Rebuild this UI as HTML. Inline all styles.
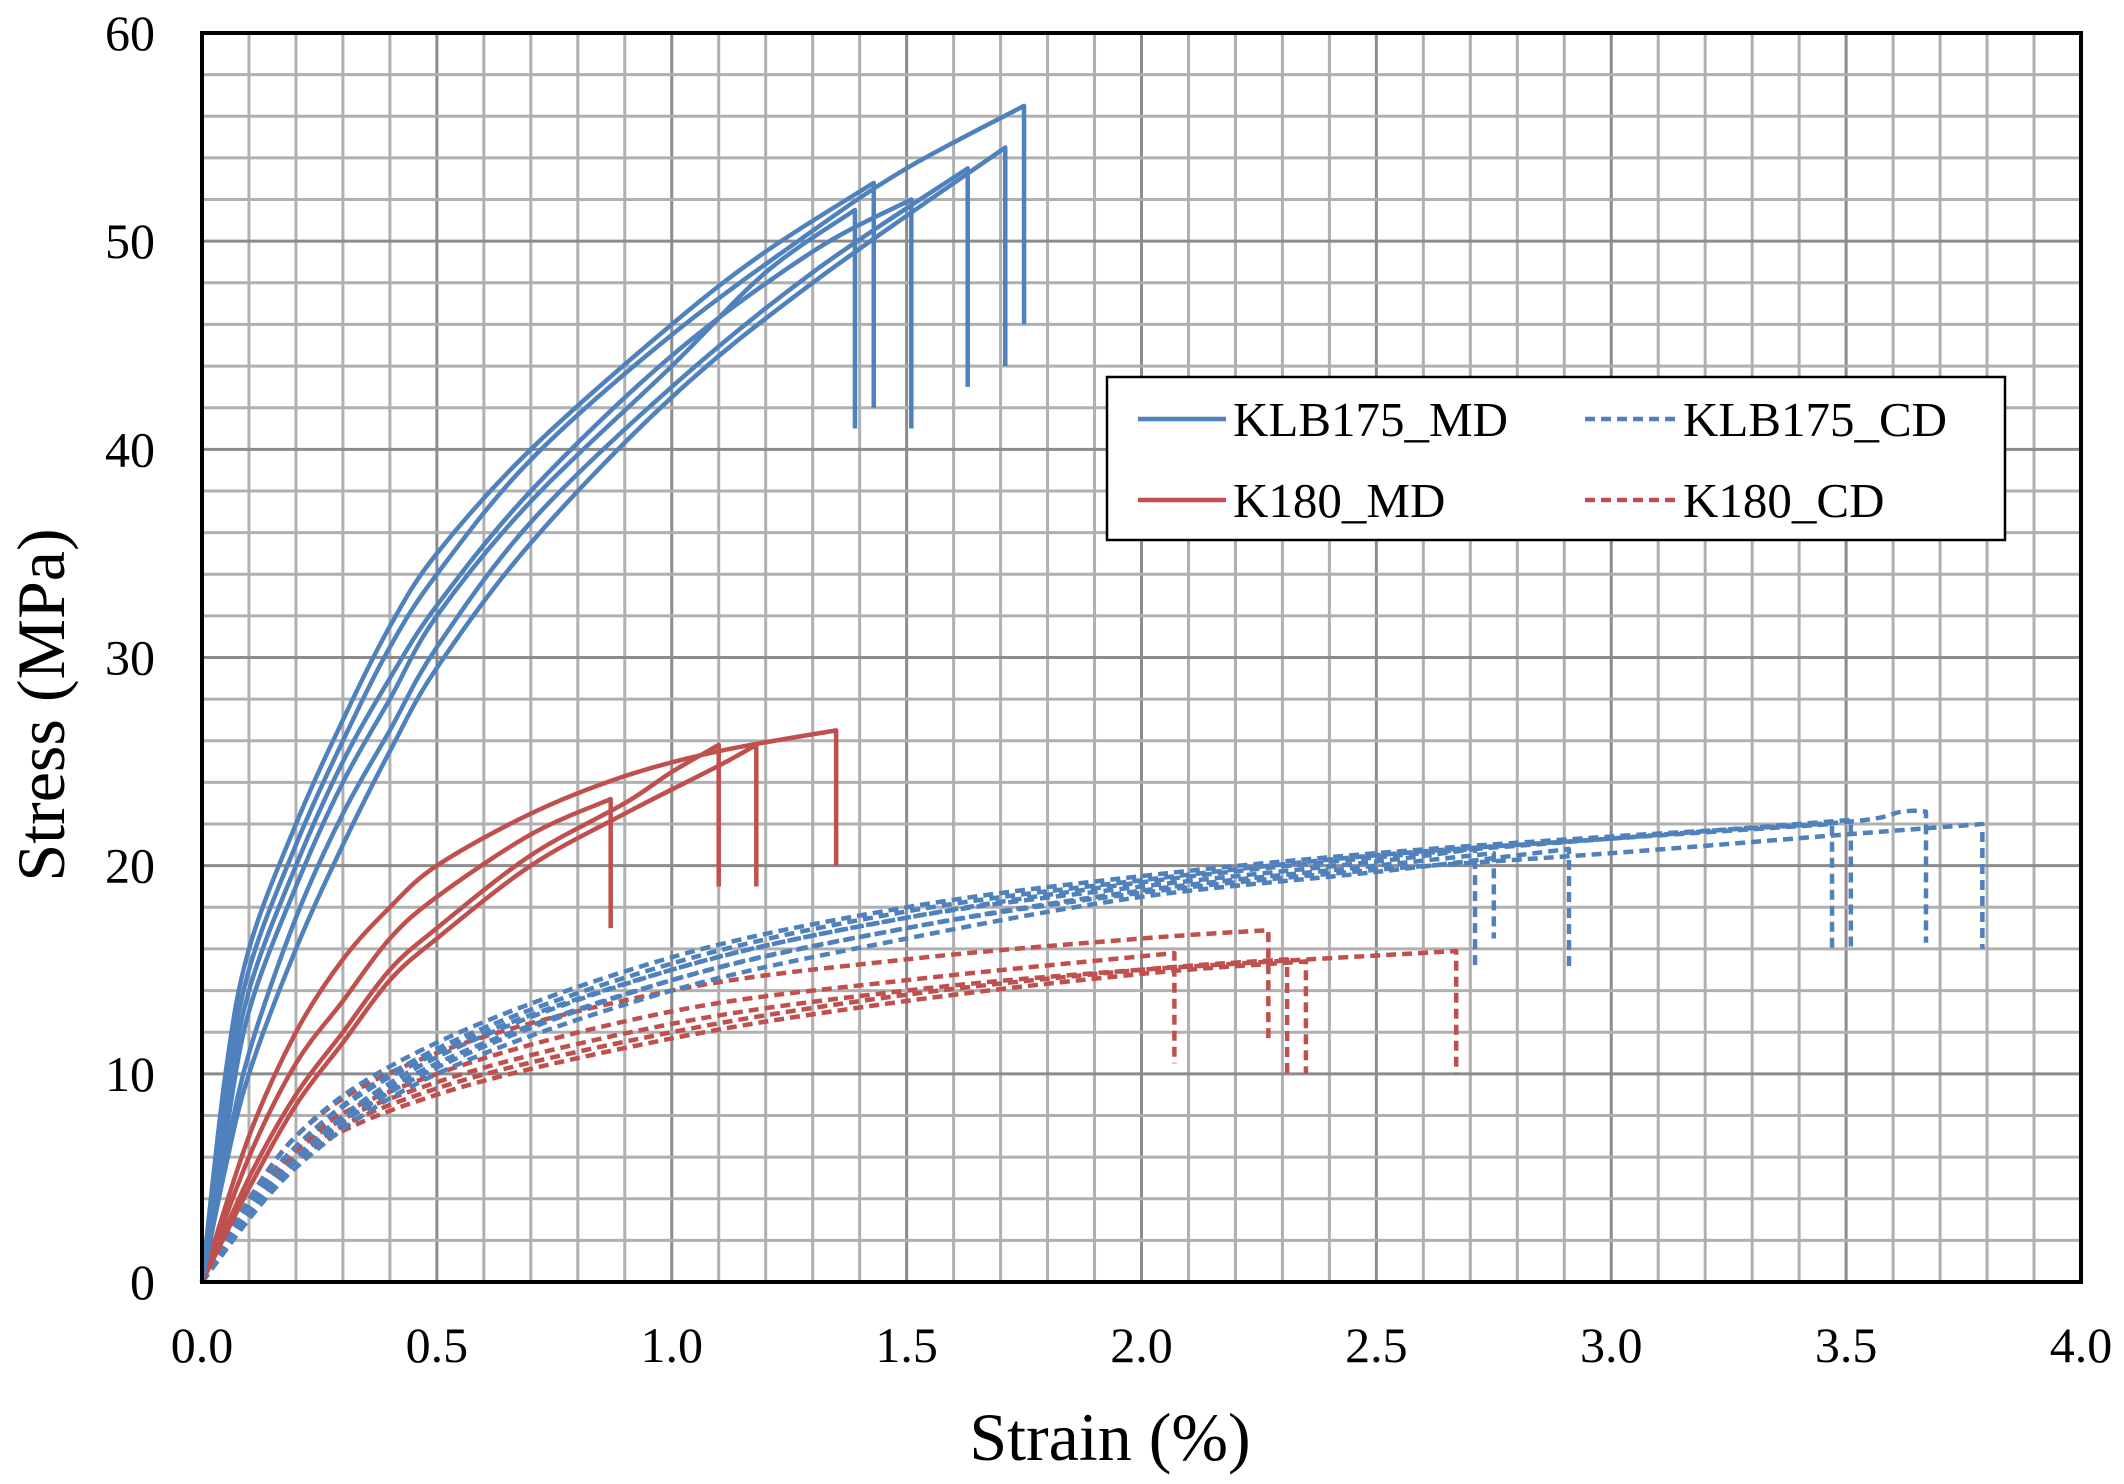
<!DOCTYPE html>
<html><head><meta charset="utf-8"><style>
html,body{margin:0;padding:0;background:#fff;}
svg{display:block;font-family:"Liberation Serif",serif;}
</style></head><body>
<svg id="chart" width="2124" height="1484" viewBox="0 0 2124 1484" xmlns="http://www.w3.org/2000/svg">
<g id="grid"></g>
<g id="series"></g>
<rect x="202" y="33" width="1879" height="1249" fill="none" stroke="#000" stroke-width="4"/>
<g id="ticks" font-size="50" fill="#000"></g>
<text x="1110" y="1460" font-size="68" text-anchor="middle">Strain (%)</text>
<text transform="translate(64,705) rotate(-90)" font-size="68" text-anchor="middle">Stress (MPa)</text>
<g>
<rect x="1107" y="377" width="898" height="163" fill="#fff" stroke="#000" stroke-width="2.5"/>
<g><line x1="1138" y1="419" x2="1226" y2="419" stroke="#4F81BD" stroke-width="4.5"/><text x="1233" y="436" font-size="49">KLB175_MD</text></g>
<g><line x1="1585" y1="419" x2="1677" y2="419" stroke="#4F81BD" stroke-width="4.5" stroke-dasharray="10 6"/><text x="1683" y="436" font-size="49">KLB175_CD</text></g>
<g><line x1="1138" y1="500" x2="1226" y2="500" stroke="#C0504D" stroke-width="4.5"/><text x="1233" y="517" font-size="49">K180_MD</text></g>
<g><line x1="1585" y1="500" x2="1677" y2="500" stroke="#C0504D" stroke-width="4.5" stroke-dasharray="10 6"/><text x="1683" y="517" font-size="49">K180_CD</text></g>
</g>
</svg>
<script>
const xTicks=["0.0","0.5","1.0","1.5","2.0","2.5","3.0","3.5","4.0"];
const yTicks=["0","10","20","30","40","50","60"];
const klbMD=[
 [[0,0],[0.05,10],[0.1,16],[0.2,22],[0.3,27],[0.4,31.5],[0.5,35],[0.7,40],[1.0,46],[1.2,49.5],[1.43,52.8],[1.43,42]],
 [[0,0],[0.05,7],[0.1,13],[0.2,19],[0.3,24],[0.4,28],[0.5,32],[0.7,37.5],[1.0,44],[1.2,48.5],[1.39,51.5],[1.39,41]],
 [[0,0],[0.05,8],[0.1,14],[0.2,20],[0.3,25],[0.4,29],[0.5,32.5],[0.7,38],[1.0,44.5],[1.3,49.5],[1.51,52],[1.51,41]],
 [[0,0],[0.05,6],[0.1,11],[0.2,17.5],[0.3,22.5],[0.4,26.5],[0.5,30.5],[0.7,36.5],[1.0,43],[1.3,48.5],[1.63,53.5],[1.63,43]],
 [[0,0],[0.05,5.5],[0.1,10],[0.2,16],[0.3,21],[0.4,25.5],[0.5,29.5],[0.7,35.5],[1.0,42.5],[1.3,48],[1.71,54.5],[1.71,44]],
 [[0,0],[0.05,9],[0.1,15],[0.2,21],[0.3,26],[0.4,30.5],[0.5,34],[0.7,39.5],[1.0,45.5],[1.3,50.5],[1.5,53.5],[1.75,56.5],[1.75,46]]
];
const k180MD=[
 [[0,0],[0.1,6],[0.2,10.5],[0.3,13.5],[0.4,16.5],[0.5,18.5],[0.7,21.5],[0.87,23.2],[0.87,17]],
 [[0,0],[0.1,5],[0.2,9],[0.3,12],[0.4,15],[0.5,17],[0.7,20.5],[0.9,23],[1.0,24.5],[1.1,25.8],[1.1,19]],
 [[0,0],[0.1,4.5],[0.2,8.5],[0.3,11.5],[0.4,14.5],[0.5,16.5],[0.7,20],[0.9,22.5],[1.1,24.8],[1.18,25.8],[1.18,19]],
 [[0,0],[0.1,7],[0.2,12],[0.3,15.5],[0.4,18],[0.5,20],[0.7,22.5],[0.9,24.3],[1.1,25.5],[1.35,26.5],[1.35,20]]
];
const klbCD=[
 [[0,0],[0.2,6.5],[0.5,11],[1.0,15],[1.5,17.5],[2.0,19],[2.5,20.2],[2.71,20.8],[2.71,15]],
 [[0,0],[0.2,6],[0.5,10.5],[1.0,14.5],[1.5,17],[2.0,18.8],[2.5,20],[2.75,20.6],[2.75,16.5]],
 [[0,0],[0.2,5.5],[0.5,10],[1.0,14],[1.5,16.5],[2.0,18.5],[2.5,19.7],[2.91,20.8],[2.91,15]],
 [[0,0],[0.2,6.5],[0.5,11.2],[1.0,15.3],[1.5,17.8],[2.0,19.3],[2.5,20.5],[3.0,21.3],[3.47,22],[3.47,16]],
 [[0,0],[0.2,6],[0.5,10.8],[1.0,15],[1.5,17.5],[2.0,19.2],[2.5,20.4],[3.0,21.3],[3.51,22.2],[3.51,16]],
 [[0,0],[0.2,7],[0.5,11.5],[1.0,15.6],[1.5,18],[2.0,19.5],[2.5,20.6],[3.0,21.4],[3.5,22.1],[3.62,22.6],[3.67,22.6],[3.67,16.3]],
 [[0,0],[0.2,5.8],[0.5,10.3],[1.0,14.5],[1.5,17],[2.0,18.7],[2.5,19.8],[3.0,20.6],[3.5,21.5],[3.79,22],[3.79,16]]
];
const k180CD=[
 [[0,0],[0.2,6.5],[0.5,10],[1.0,13],[1.5,14.5],[2.07,15.8],[2.07,10.5]],
 [[0,0],[0.2,7],[0.5,11],[1.0,14],[1.5,15.5],[2.0,16.5],[2.27,16.9],[2.27,11.5]],
 [[0,0],[0.2,6],[0.5,9.3],[1.0,12],[1.5,13.8],[2.0,15],[2.31,15.5],[2.31,10]],
 [[0,0],[0.2,5.8],[0.5,9],[1.0,11.7],[1.5,13.5],[2.0,14.8],[2.35,15.4],[2.35,10]],
 [[0,0],[0.2,6.3],[0.5,9.6],[1.0,12.4],[1.5,14],[2.0,15],[2.67,15.9],[2.67,10]]
];
const X0=202,X1=2081,Y0=1282,Y1=33,XMAX=4,YMAX=60;
const sx=v=>X0+(X1-X0)*v/XMAX, sy=v=>Y0-(Y0-Y1)*v/YMAX;
const NS="http://www.w3.org/2000/svg";
function mk(tag,attrs,parent){const e=document.createElementNS(NS,tag);for(const k in attrs)e.setAttribute(k,attrs[k]);parent.appendChild(e);return e;}
const grid=document.getElementById('grid');
for(let i=1;i<40;i++){const x=sx(i*0.1);
 const l=mk('line',{x1:x,y1:Y1,x2:x,y2:Y0,stroke:i%5==0?'#8c8c8c':'#b0b0b0','stroke-width':3},grid);
 
 }
for(let i=1;i<30;i++){const y=sy(i*2);
 const l=mk('line',{x1:X0,y1:y,x2:X1,y2:y,stroke:i%5==0?'#8c8c8c':'#b0b0b0','stroke-width':3},grid);
 
 }
const ticks=document.getElementById('ticks');
xTicks.forEach((t,i)=>{const e=mk('text',{x:sx(i*0.5),y:1362,'text-anchor':'middle'},ticks);e.textContent=t;
 
 });
yTicks.forEach((t,i)=>{const e=mk('text',{x:155,y:sy(i*10)+17,'text-anchor':'end'},ticks);e.textContent=t;
 
 });
function pathFor(pts){
 const P=pts.map(p=>[sx(p[0]),sy(p[1])]);
 const n=P.length;let d='M'+P[0][0]+','+P[0][1];
 for(let i=0;i<n-2;i++){
  const p0=P[Math.max(0,i-1)],p1=P[i],p2=P[i+1],p3=P[Math.min(n-2,i+2)];
  const c1=[p1[0]+(p2[0]-p0[0])/6,p1[1]+(p2[1]-p0[1])/6];
  const c2=[p2[0]-(p3[0]-p1[0])/6,p2[1]-(p3[1]-p1[1])/6];
  d+=' C'+c1+' '+c2+' '+p2;}
 d+=' L'+P[n-1][0]+','+P[n-1][1];return d;}
const ser=document.getElementById('series');
function draw(set,color,dash,name){set.forEach(c=>{
 const a={d:pathFor(c),fill:'none',stroke:color,'stroke-width':4.5,'stroke-linejoin':'round'};
 if(dash)a['stroke-dasharray']='10 6';
 const p=mk('path',a,ser);
 
 });}
draw(k180CD,'#C0504D',true,'k180-cd-curve');
draw(klbCD,'#4F81BD',true,'klb175-cd-curve');
draw(k180MD,'#C0504D',false,'k180-md-curve');
draw(klbMD,'#4F81BD',false,'klb175-md-curve');
</script>
</body></html>
